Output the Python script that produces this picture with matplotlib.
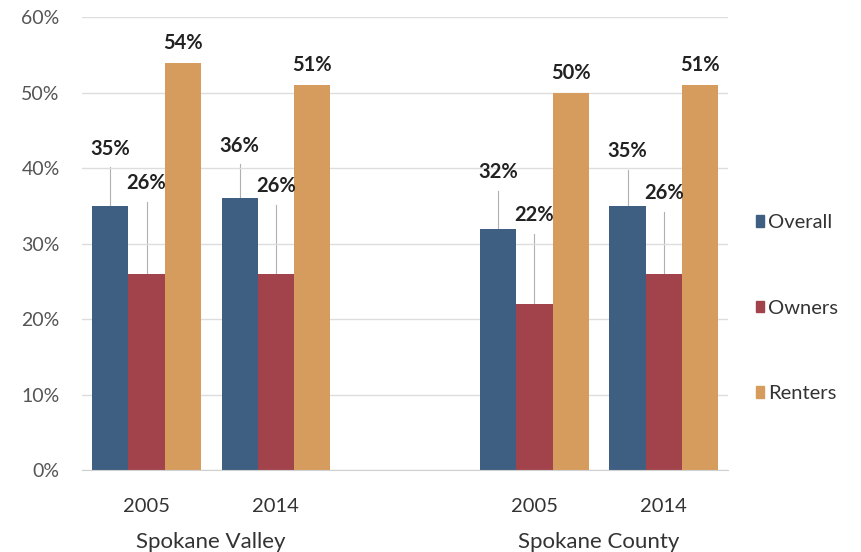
import numpy as np
import matplotlib
matplotlib.use("Agg")
import matplotlib.pyplot as plt
from matplotlib.patches import Patch

plt.rcParams['font.family'] = ['Lato', 'DejaVu Sans']

# data
places = ["Spokane Valley", "Spokane County"]
years = ["2005", "2014", "2005", "2014"]
series = ["Overall", "Owners", "Renters"]
overall = [35, 36, 32, 35]
owners = [26, 26, 22, 26]
renters = [54, 51, 50, 51]
colors = ["#3e5f82", "#a2434c", "#d69c5e"]

# where the labels were dragged to (data units above axis)
lab_y = [[42.6, 43.0, 39.5, 42.3],
         [38.0, 37.6, 33.8, 36.7],
         [None, None, None, None]]

slots = np.array([0, 1, 3, 4])
w = 0.28

fig = plt.figure(figsize=(8.62, 5.52), dpi=100)
ax = fig.add_axes([0.095, 0.1486, 0.75, 0.82])

for k, vals in enumerate([overall, owners, renters]):
    xs = slots + (k - 1) * w
    ax.bar(xs, vals, width=w, color=colors[k], zorder=2)
    for i, v in enumerate(vals):
        ly = lab_y[k][i]
        if ly is None:
            ax.text(xs[i], v + 1.3, f"{v}%", ha="center", va="bottom",
                    fontsize=14.5, fontweight="bold", color="#222222")
        else:
            ax.plot([xs[i], xs[i]], [v, ly - 2.5], color="#b0b0b0", lw=0.8, zorder=1)
            ax.text(xs[i], ly, f"{v}%", ha="center", va="center",
                    fontsize=14.5, fontweight="bold", color="#222222")

ax.set_xlim(-0.5, 4.5)
ax.set_ylim(0, 60)
ax.set_yticks(range(0, 61, 10))
ax.set_yticklabels([f"{t}%" for t in range(0, 61, 10)], fontsize=14, color="#555555")
ax.yaxis.grid(True, color="#dddddd", lw=1, zorder=0)
ax.tick_params(axis="y", length=0, pad=16)
ax.set_xticks([])
for s in ["top", "right", "left"]:
    ax.spines[s].set_visible(False)
ax.spines["bottom"].set_color("#d0d0d0")

tr = ax.get_xaxis_transform()
for x, yr in zip(slots, years):
    ax.text(x, -0.08, yr, transform=tr, ha="center", va="center",
            fontsize=14.5, color="#333333")
for x, p in zip([0.5, 3.5], places):
    ax.text(x, -0.16, p, transform=tr, ha="center", va="center",
            fontsize=16, color="#333333")

handles = [Patch(color=c) for c in colors]
fig.legend(handles, series, loc="center left", bbox_to_anchor=(0.856, 0.442),
           frameon=False, fontsize=14.5, handlelength=0.4, handleheight=0.5,
           handletextpad=0.2, labelspacing=3.4, labelcolor="#333333")

fig.savefig("out.png", dpi=100)
